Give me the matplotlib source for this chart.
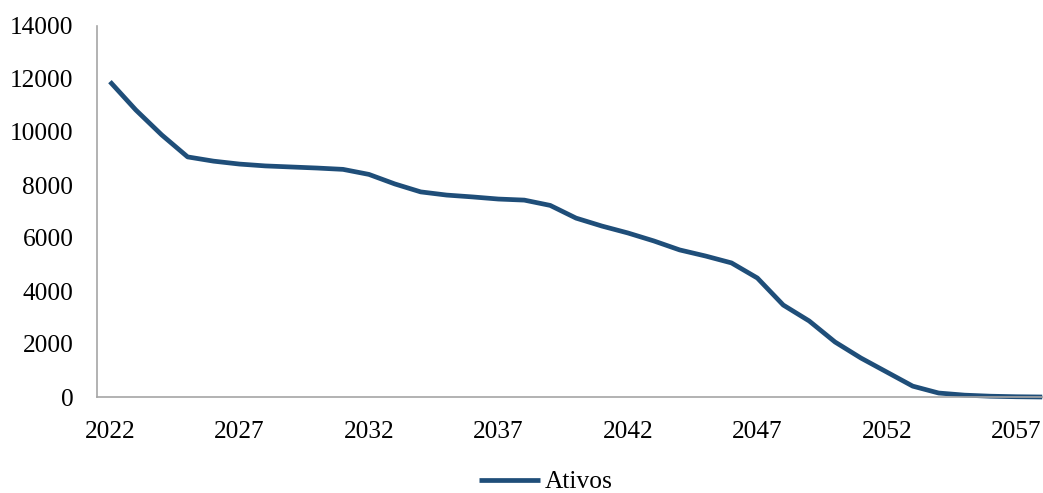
import matplotlib
matplotlib.use("Agg")
import matplotlib.pyplot as plt

years = list(range(2022, 2059))
ativos = [11900, 10830, 9890, 9060, 8900, 8790, 8720, 8680, 8640, 8590,
          8400, 8040, 7740, 7620, 7550, 7470, 7430, 7230, 6750, 6450,
          6190, 5890, 5550, 5320, 5060, 4490, 3470, 2870, 2075, 1470,
          940, 410, 150, 70, 30, 10, 0]
xticks = list(range(2022, 2058, 5))
yticks = list(range(0, 14001, 2000))

plt.rcParams['font.family'] = ['Liberation Serif', 'DejaVu Serif']
fig = plt.figure(figsize=(10.43, 4.93), dpi=100)
ax = fig.add_axes([97/1043, 1 - 397/493, (1043 - 97)/1043, (397 - 26)/493])
ax.plot(years, ativos, color='#1f4e79', lw=3.4, solid_capstyle='butt', label='Ativos', clip_on=False)
ax.set_xlim(2021.5, 2058.03)
ax.set_ylim(0, 14000)
ax.set_xticks(xticks)
ax.set_xticklabels([str(x) for x in xticks])
ax.set_yticks(yticks)
ax.set_yticklabels([str(y) for y in yticks])
ax.tick_params(length=0, labelsize=18.3, colors='black')
ax.tick_params(axis='x', pad=17)
ax.tick_params(axis='y', pad=17)
for s in ['top', 'right']:
    ax.spines[s].set_visible(False)
for s in ['left', 'bottom']:
    ax.spines[s].set_color('#a6a6a6')
    ax.spines[s].set_linewidth(1.2)
leg = fig.legend(loc='center', bbox_to_anchor=(546/1043, 1 - 482/493), frameon=False,
                 fontsize=18.3, handlelength=2.4, handletextpad=0.2)
fig.savefig('out.png', dpi=100)
